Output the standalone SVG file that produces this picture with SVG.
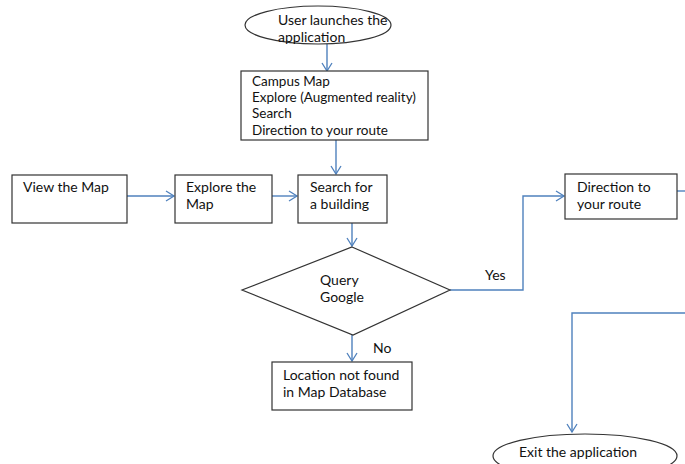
<svg xmlns="http://www.w3.org/2000/svg" width="685" height="464" viewBox="0 0 685 464">
<defs>
<marker id="arr" markerWidth="12" markerHeight="12" refX="10" refY="6" orient="auto" markerUnits="userSpaceOnUse">
<polyline points="2,1 10,6 2,11" fill="none" stroke="#4f81bd" stroke-width="1.3"/>
</marker>
<style>
.box{fill:#fff;stroke:#333;stroke-width:1.2}
.t{font-family:Lato,"Open Sans","Liberation Sans",sans-serif;font-size:14px;fill:#111}
.s{font-size:13.5px}
.c{fill:none;stroke:#4f81bd;stroke-width:1.4}
</style>
</defs>
<rect width="685" height="464" fill="#fff"/>
<g id="connectors">
<line class="c" x1="327" y1="44" x2="327" y2="71" marker-end="url(#arr)"/>
<line class="c" x1="336" y1="140" x2="336" y2="174" marker-end="url(#arr)"/>
<line class="c" x1="127" y1="196" x2="174" y2="196" marker-end="url(#arr)"/>
<line class="c" x1="272" y1="196" x2="297" y2="196" marker-end="url(#arr)"/>
<line class="c" x1="352" y1="223" x2="352" y2="246" marker-end="url(#arr)"/>
<line class="c" x1="352" y1="335" x2="352" y2="361" marker-end="url(#arr)"/>
<polyline class="c" points="450,290 523,290 523,196 564,196" marker-end="url(#arr)"/>
<line class="c" x1="677" y1="191" x2="685" y2="191"/>
<polyline class="c" points="685,313 572,313 572,432" marker-end="url(#arr)"/>
</g>
<g id="start">
<ellipse class="box" cx="318" cy="25" rx="73" ry="19"/>
<text class="t" x="278" y="25">User launches the</text>
<text class="t" x="278" y="42">application</text>
</g>
<g id="menu">
<rect class="box" x="241" y="71" width="187" height="69"/>
<text class="t s" x="252" y="86">Campus Map</text>
<text class="t s" x="252" y="102.2">Explore (Augmented reality)</text>
<text class="t s" x="252" y="118.4">Search</text>
<text class="t s" x="252" y="134.6">Direction to your route</text>
</g>
<g id="view">
<rect class="box" x="12" y="175" width="115" height="48"/>
<text class="t" x="23" y="192">View the Map</text>
</g>
<g id="explore">
<rect class="box" x="175" y="175" width="97" height="48"/>
<text class="t" x="186" y="192">Explore the</text>
<text class="t" x="186" y="209">Map</text>
</g>
<g id="search">
<rect class="box" x="298" y="175" width="89" height="48"/>
<text class="t" x="310" y="192">Search for</text>
<text class="t" x="310" y="209">a building</text>
</g>
<g id="query">
<polygon class="box" points="352,247 450,290 353,335 242,290"/>
<text class="t" x="320" y="285">Query</text>
<text class="t" x="320" y="302">Google</text>
</g>
<g id="direction">
<rect class="box" x="565" y="174" width="112" height="45"/>
<text class="t" x="577" y="192">Direction to</text>
<text class="t" x="577" y="209">your route</text>
</g>
<g id="notfound">
<rect class="box" x="272" y="362" width="140" height="48"/>
<text class="t" x="283" y="380">Location not found</text>
<text class="t" x="283" y="397">in Map Database</text>
</g>
<g id="exit">
<ellipse class="box" cx="585" cy="456" rx="92" ry="22"/>
<text class="t" x="519" y="457">Exit the application</text>
</g>
<g id="labels">
<text class="t" x="485" y="280">Yes</text>
<text class="t" x="373" y="353">No</text>
</g>
</svg>
